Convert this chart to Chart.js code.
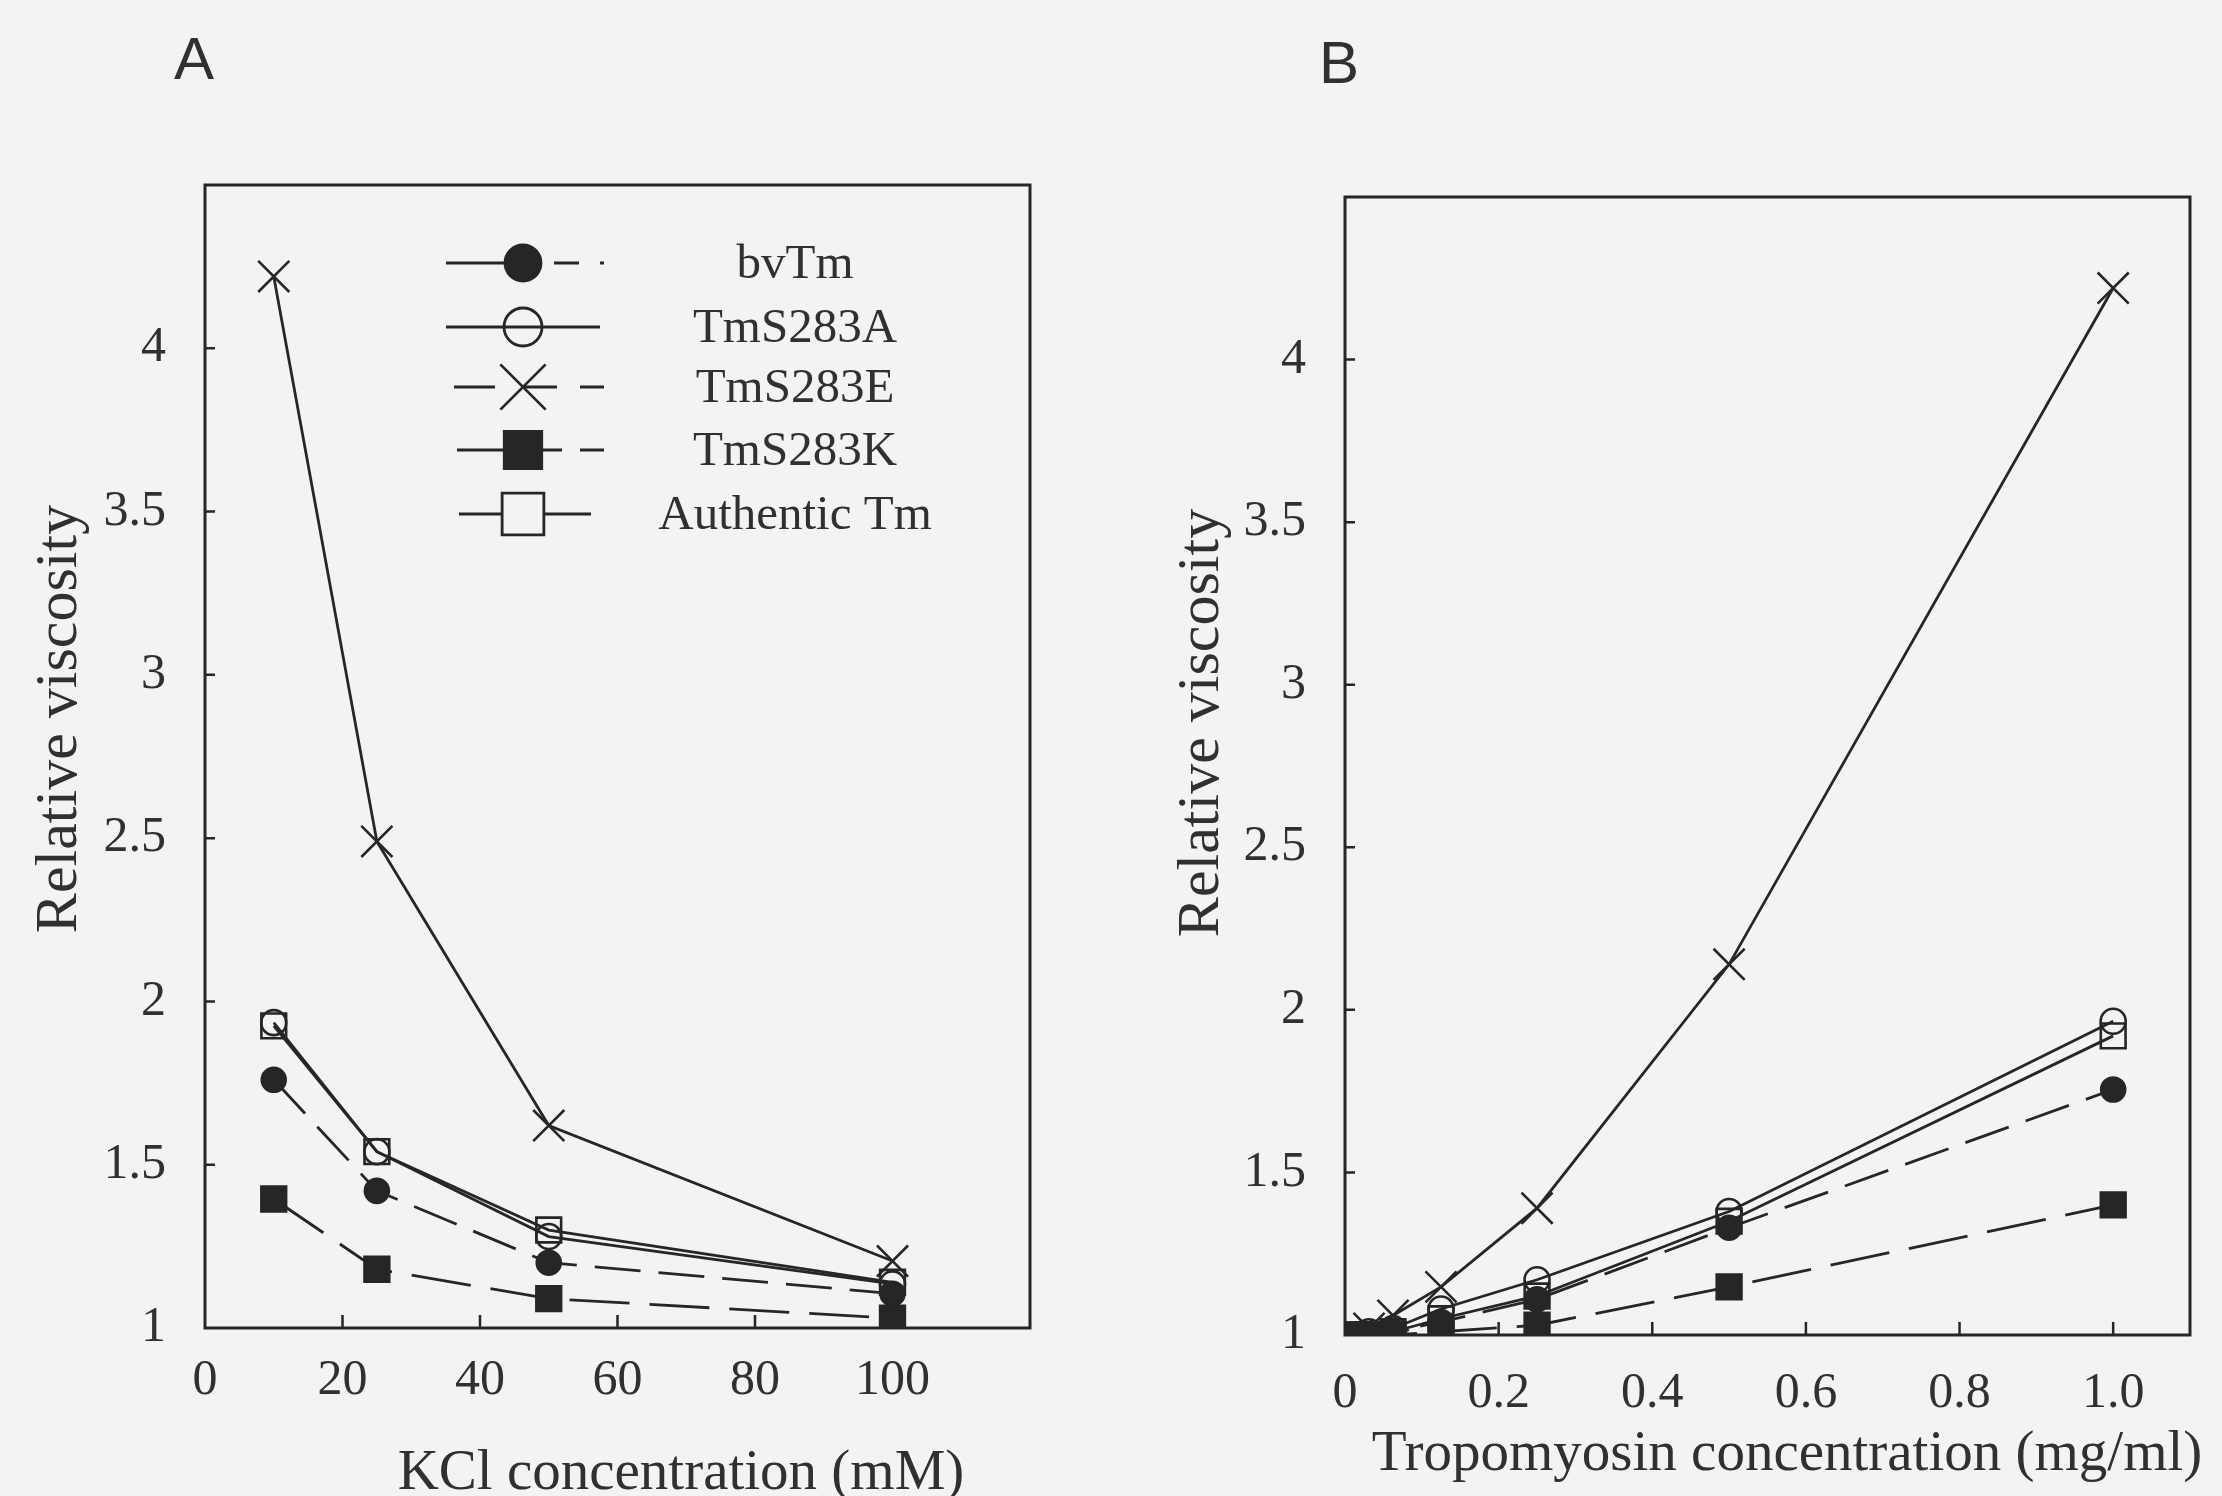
<!DOCTYPE html>
<html><head><meta charset="utf-8">
<script src="https://cdn.jsdelivr.net/npm/chart.js@4.4.1/dist/chart.umd.min.js"></script>
<style>
html,body{margin:0;padding:0;background:#f4f2f5;}
#wrap{position:relative;width:2222px;height:1496px;overflow:hidden;}
.panel{position:absolute;top:0;width:1111px;height:1496px;}
</style></head><body>
<div id="wrap">
<div class="panel" style="left:0"><canvas id="cA" width="1111" height="1496"></canvas></div>
<div class="panel" style="left:1111px"><canvas id="cB" width="1111" height="1496"></canvas></div>
</div>
<script>
// ---------- DATA ----------
const seriesNames = ['bvTm', 'TmS283A', 'TmS283E', 'TmS283K', 'Authentic Tm'];

// Panel A: KCl concentration (mM)
const kclX      = [10, 25, 50, 100];
const kclBvTm   = [1.76, 1.42, 1.20, 1.105];
const kclS283A  = [1.935, 1.54, 1.28, 1.135];
const kclS283E  = [4.22, 2.49, 1.62, 1.205];
const kclS283K  = [1.395, 1.18, 1.09, 1.03];
const kclAuth   = [1.925, 1.54, 1.30, 1.14];

// Panel B: Tropomyosin concentration (mg/ml)
const tmX      = [0.015625, 0.03125, 0.0625, 0.125, 0.25, 0.5, 1.0];
const tmBvTm   = [1.00, 1.00, 1.01, 1.04, 1.11, 1.33, 1.755];
const tmS283A  = [1.00, 1.01, 1.02, 1.08, 1.17, 1.38, 1.965];
const tmS283E  = [1.00, 1.02, 1.06, 1.148, 1.39, 2.14, 4.22];
const tmS283K  = [1.00, 1.00, 1.00, 1.01, 1.03, 1.148, 1.40];
const tmAuth   = [1.00, 1.00, 1.01, 1.05, 1.12, 1.35, 1.92];

// Tick labels
const kclTicks  = [0, 20, 40, 60, 80, 100];
const tmTicks   = [0, 0.2, 0.4, 0.6, 0.8, 1.0];
const viscTicks = [1, 1.5, 2, 2.5, 3, 3.5, 4];

// ---------- STYLE ----------
const INK = '#262626';
const TXT = '#303030';
const BG = '#f4f2f5';
const SERIF = '"Liberation Serif", "Times New Roman", serif';
const SANS = '"Liberation Sans", Arial, sans-serif';

const seriesStyle = [
  {ps: 'circle',   r: 12,   fill: INK,                dash: [46, 18]},
  {ps: 'circle',   r: 12.5, fill: 'rgba(0,0,0,0)',    dash: []},
  {ps: 'crossRot', r: 22,   fill: INK,                dash: []},
  {ps: 'rect',     r: 17.5, fill: INK,                dash: [60, 20]},
  {ps: 'rect',     r: 17.5, fill: 'rgba(0,0,0,0)',    dash: []}
];

function buildDatasets(xs, ysList) {
  return ysList.map((vals, i) => ({
    label: seriesNames[i],
    data: xs.map((x, j) => ({x: x, y: vals[j]})),
    borderColor: INK,
    borderWidth: 2.8,
    borderDash: seriesStyle[i].dash,
    pointStyle: seriesStyle[i].ps,
    pointRadius: seriesStyle[i].r,
    pointHoverRadius: seriesStyle[i].r,
    pointBackgroundColor: seriesStyle[i].fill,
    pointBorderColor: INK,
    pointBorderWidth: 2.6,
    fill: false,
    tension: 0
  }));
}

function drawMarker(ctx, ps, r, fill, x, y) {
  ctx.save();
  ctx.lineWidth = 2.8;
  ctx.strokeStyle = INK;
  ctx.fillStyle = fill;
  ctx.beginPath();
  if (ps === 'circle') {
    ctx.arc(x, y, r, 0, Math.PI * 2);
    ctx.fill(); ctx.stroke();
  } else if (ps === 'rect') {
    ctx.rect(x - r * 0.72, y - r * 0.72, r * 1.44, r * 1.44);
    ctx.fill(); ctx.stroke();
  } else {
    const d = r * 0.707;
    ctx.moveTo(x - d, y - d); ctx.lineTo(x + d, y + d);
    ctx.moveTo(x + d, y - d); ctx.lineTo(x - d, y + d);
    ctx.stroke();
  }
  ctx.restore();
}

const legendRows = [
  {y: 263, segs: [[446, 523], [554, 579], [600, 604]], ps: 'circle',   r: 18, fill: INK},
  {y: 327, segs: [[446, 600]],                         ps: 'circle',   r: 19, fill: 'rgba(0,0,0,0)'},
  {y: 387, segs: [[454, 495], [523, 557], [580, 604]], ps: 'crossRot', r: 32, fill: INK},
  {y: 450, segs: [[457, 562], [580, 604]],             ps: 'rect',     r: 26, fill: INK},
  {y: 514, segs: [[459, 591]],                         ps: 'rect',     r: 29, fill: BG}
];

function framePlugin(cfg) {
  return {
    id: 'frame' + cfg.letter,
    beforeDatasetsDraw(chart) {
      const {ctx, chartArea: a} = chart;
      const xs = chart.scales.x, ys = chart.scales.y;
      ctx.save();
      ctx.strokeStyle = INK;
      ctx.lineWidth = 3;
      ctx.strokeRect(a.left, a.top, a.right - a.left, a.bottom - a.top);
      ctx.lineWidth = 2.5;
      ctx.beginPath();
      cfg.xTicks.forEach(v => {
        if (v === 0) return;
        const px = xs.getPixelForValue(v);
        ctx.moveTo(px, a.bottom); ctx.lineTo(px, a.bottom - 13);
      });
      viscTicks.forEach(v => {
        if (v === 1) return;
        const py = ys.getPixelForValue(v);
        ctx.moveTo(a.left, py); ctx.lineTo(a.left + 10, py);
      });
      ctx.stroke();
      ctx.restore();
    },
    afterDraw(chart) {
      const ctx = chart.ctx;
      ctx.save();
      ctx.fillStyle = TXT;
      ctx.textAlign = 'center';
      ctx.textBaseline = 'middle';
      ctx.font = '57px ' + SERIF;
      ctx.fillText(cfg.xTitle, cfg.xTitlePos[0], cfg.xTitlePos[1]);
      ctx.save();
      ctx.translate(cfg.yTitlePos[0], cfg.yTitlePos[1]);
      ctx.rotate(-Math.PI / 2);
      ctx.font = '60px ' + SERIF;
      ctx.fillText('Relative viscosity', 0, 0);
      ctx.restore();
      ctx.font = '60px ' + SANS;
      ctx.fillText(cfg.letter, cfg.letterPos[0], cfg.letterPos[1]);
      if (cfg.legend) {
        legendRows.forEach((row, i) => {
          ctx.strokeStyle = INK;
          ctx.lineWidth = 2.8;
          ctx.beginPath();
          row.segs.forEach(s => { ctx.moveTo(s[0], row.y); ctx.lineTo(s[1], row.y); });
          ctx.stroke();
          drawMarker(ctx, row.ps, row.r, row.fill, 523, row.y);
          ctx.fillStyle = TXT;
          ctx.font = '49px ' + SERIF;
          ctx.fillText(seriesNames[i], 795, row.y + 2);
        });
      }
      ctx.restore();
    }
  };
}

function makeChart(id, xs, ysList, cfg) {
  const tickFont = {family: SERIF, size: 50};
  return new Chart(document.getElementById(id), {
    type: 'line',
    data: {datasets: buildDatasets(xs, ysList)},
    options: {
      responsive: false,
      animation: false,
      devicePixelRatio: 1,
      layout: {padding: cfg.padding},
      plugins: {legend: {display: false}, tooltip: {enabled: false}},
      scales: {
        x: {
          type: 'linear', min: 0, max: cfg.xMax,
          afterBuildTicks: s => { s.ticks = cfg.xTicks.map(v => ({value: v})); },
          afterFit: s => { s.height = cfg.xAxisH; },
          grid: {display: false, drawTicks: false},
          border: {display: false},
          ticks: {font: tickFont, color: TXT, padding: cfg.xPad, maxRotation: 0, autoSkip: false,
                  callback: cfg.xFmt}
        },
        y: {
          type: 'linear', min: 1, max: 4.5,
          afterBuildTicks: s => { s.ticks = viscTicks.map(v => ({value: v})); },
          afterFit: s => { s.width = cfg.yAxisW; },
          grid: {display: false, drawTicks: false},
          border: {display: false},
          ticks: {font: tickFont, color: TXT, padding: 39, autoSkip: false,
                  callback: v => String(v)}
        }
      }
    },
    plugins: [framePlugin(cfg)]
  });
}

makeChart('cA', kclX, [kclBvTm, kclS283A, kclS283E, kclS283K, kclAuth], {
  letter: 'A', letterPos: [194, 62], legend: true,
  padding: {left: 0, top: 185, right: 81, bottom: 0},
  yAxisW: 205, xAxisH: 168, xPad: 23, xMax: 120, xTicks: kclTicks,
  xFmt: v => String(v),
  xTitle: 'KCl concentration (mM)', xTitlePos: [681, 1474], yTitlePos: [60, 719]
});

makeChart('cB', tmX, [tmBvTm, tmS283A, tmS283E, tmS283K, tmAuth], {
  letter: 'B', letterPos: [228, 66], legend: false,
  padding: {left: 0, top: 197, right: 32, bottom: 0},
  yAxisW: 234, xAxisH: 161, xPad: 29, xMax: 1.1, xTicks: tmTicks,
  xFmt: v => (v === 0 ? '0' : v.toFixed(1)),
  xTitle: 'Tropomyosin concentration (mg/ml)', xTitlePos: [676, 1455], yTitlePos: [91, 723]
});
</script>
</body></html>
